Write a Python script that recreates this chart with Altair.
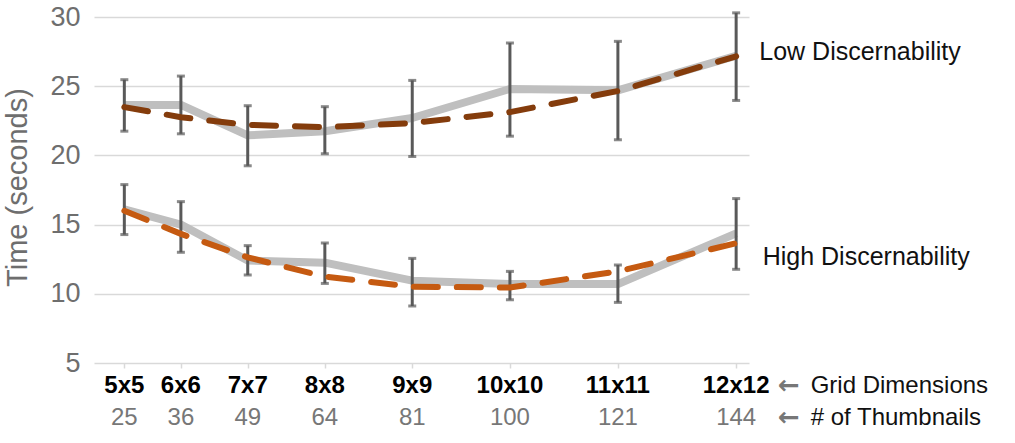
import altair as alt
import pandas as pd

thumbs = [25, 36, 49, 64, 81, 100, 121, 144]
grid_labels = ["5x5", "6x6", "7x7", "8x8", "9x9", "10x10", "11x11", "12x12"]

low_obs = [23.65, 23.65, 21.45, 21.75, 22.7, 24.8, 24.7, 27.2]
low_lo = [21.75, 21.56, 19.25, 20.12, 19.92, 21.39, 21.13, 23.97]
low_hi = [25.47, 25.73, 23.59, 23.52, 25.42, 28.12, 28.24, 30.3]
low_fit = [23.49, 22.76, 22.21, 22.04, 22.33, 23.13, 24.65, 27.16]

high_obs = [16.1, 15.0, 12.4, 12.25, 10.95, 10.7, 10.7, 14.37]
high_lo = [14.28, 13.0, 11.36, 10.75, 9.12, 9.57, 9.38, 11.77]
high_hi = [17.89, 16.66, 13.48, 13.67, 12.56, 11.62, 12.08, 16.88]
high_fit = [16.0, 14.33, 12.63, 11.24, 10.51, 10.45, 11.62, 13.65]

FONT = "Liberation Sans"

rows = []
for g, obs, lo, hi, fit in [("Low", low_obs, low_lo, low_hi, low_fit),
                            ("High", high_obs, high_lo, high_hi, high_fit)]:
    for i, t in enumerate(thumbs):
        rows.append({"group": g, "thumbs": t, "grid": grid_labels[i],
                     "obs": obs[i], "lo": lo[i], "hi": hi[i], "fit": fit[i]})
df = pd.DataFrame(rows)
lab = pd.DataFrame({"thumbs": thumbs, "grid": grid_labels, "num": [str(t) for t in thumbs]})

xs = alt.Scale(domain=[19.1, 146.5], nice=False, zero=False)
ys = alt.Scale(domain=[5, 30], nice=False, zero=False)

x_enc = alt.X("thumbs:Q", scale=xs, axis=alt.Axis(values=thumbs, labels=False, grid=False,
              domain=False, ticks=True, tickColor="#d9d9d9", tickWidth=1.5, tickSize=5, title=None))

base = alt.Chart(df)

gray = base.mark_line(color="#BFBFBF", strokeWidth=8, strokeJoin="round").encode(
    x=x_enc,
    y=alt.Y("obs:Q", scale=ys, axis=alt.Axis(values=[5, 10, 15, 20, 25, 30], grid=True,
            gridColor="#d9d9d9", gridWidth=1.5, ticks=False, domain=False,
            labelFont=FONT, labelFontSize=27, labelColor="#6e6e6e", labelPadding=14,
            title="Time (seconds)", titleFont=FONT, titleFontSize=29, titleFontWeight="normal",
            titleColor="#6e6e6e", titleX=-77, titleY=170, titleAngle=270, titleBaseline="middle")),
    detail="group:N",
)

err = base.mark_rule(color="#595959", strokeWidth=3).encode(
    x="thumbs:Q", y=alt.Y("lo:Q"), y2="hi:Q")
cap_hi = base.mark_tick(orient="horizontal", color="#595959", size=8, thickness=3).encode(
    x="thumbs:Q", y="hi:Q")
cap_lo = base.mark_tick(orient="horizontal", color="#595959", size=8, thickness=3).encode(
    x="thumbs:Q", y="lo:Q")

fit = base.mark_line(strokeWidth=6, strokeDash=[24, 19], strokeCap="round").encode(
    x="thumbs:Q", y="fit:Q",
    color=alt.Color("group:N", scale=alt.Scale(domain=["Low", "High"], range=["#843C0C", "#C55A11"]),
                    legend=None),
)

lab_base = alt.Chart(lab)
row1 = lab_base.mark_text(font=FONT, fontSize=24, fontWeight="bold", color="#000000",
                          baseline="middle", align="center").encode(
    x="thumbs:Q", y=alt.value(368.8), text="grid:N")
row2 = lab_base.mark_text(font=FONT, fontSize=24, color="#777777",
                          baseline="middle", align="center").encode(
    x="thumbs:Q", y=alt.value(401.3), text="num:N")

arrow_style = dict(font="DejaVu Sans", fontSize=26, fontWeight="bold", color="#777777",
                   align="left", baseline="middle")
arrows1 = alt.Chart(pd.DataFrame({"a": ["←"]})).mark_text(**arrow_style).encode(
    x=alt.value(684), y=alt.value(368.8), text="a:N")
arrows2 = alt.Chart(pd.DataFrame({"a": ["←"]})).mark_text(**arrow_style).encode(
    x=alt.value(684), y=alt.value(401.3), text="a:N")
t1 = alt.Chart(pd.DataFrame({"t": ["Grid Dimensions"]})).mark_text(font=FONT, fontSize=24, color="#111111",
    align="left", baseline="middle").encode(x=alt.value(716.7), y=alt.value(368.8), text="t:N")
t2 = alt.Chart(pd.DataFrame({"t": ["# of Thumbnails"]})).mark_text(font=FONT, fontSize=24, color="#111111",
    align="left", baseline="middle").encode(x=alt.value(716.7), y=alt.value(401.3), text="t:N")

s1 = alt.Chart(pd.DataFrame({"t": ["Low Discernability"]})).mark_text(font=FONT, fontSize=25, color="#111111",
    align="left", baseline="middle").encode(x=alt.value(665.3), y=alt.value(35), text="t:N")
s2 = alt.Chart(pd.DataFrame({"t": ["High Discernability"]})).mark_text(font=FONT, fontSize=25, color="#111111",
    align="left", baseline="middle").encode(x=alt.value(668.7), y=alt.value(239.5), text="t:N")

chart = alt.layer(gray, err, cap_hi, cap_lo, fit, row1, row2, arrows1, arrows2, t1, t2, s1, s2).properties(
    width=655, height=346,
    autosize=alt.AutoSizeParams(type="none"),
    padding={"left": 94, "top": 17, "right": 266, "bottom": 80},
).configure_view(stroke=None)

chart.save("out.html", embed_options={"renderer": "svg", "actions": False})
